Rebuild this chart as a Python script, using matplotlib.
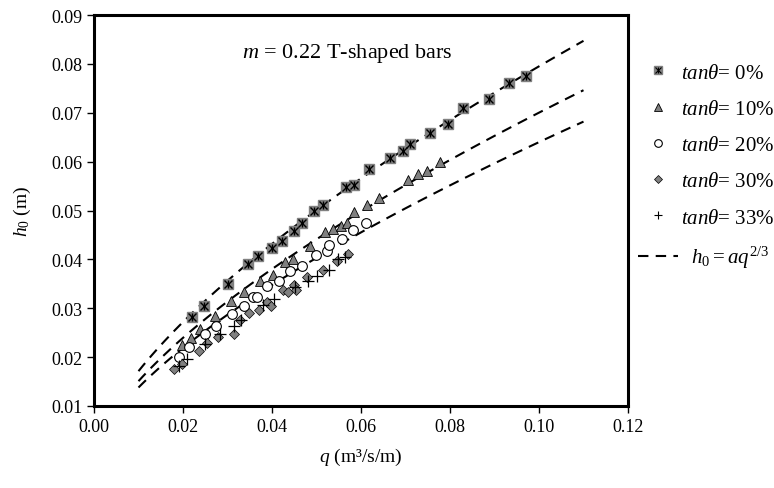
import matplotlib
matplotlib.use("Agg")
import matplotlib.pyplot as plt
from matplotlib.lines import Line2D
from matplotlib.legend_handler import HandlerTuple
import numpy as np

plt.rcParams['font.family'] = ['Liberation Serif', 'DejaVu Serif']
plt.rcParams['mathtext.fontset'] = 'custom'
plt.rcParams['mathtext.rm'] = 'Liberation Serif'
plt.rcParams['mathtext.it'] = 'Liberation Serif:italic'
plt.rcParams['mathtext.bf'] = 'Liberation Serif:bold'

# tan(theta) = 0 %
q0 = [0.0220, 0.0247, 0.0300, 0.0346, 0.0368, 0.0399, 0.0423, 0.0449, 0.0467, 0.0494, 0.0515, 0.0566,
      0.0584, 0.0619, 0.0665, 0.0694, 0.0709, 0.0754, 0.0796, 0.0830, 0.0888, 0.0933, 0.0971]
h0 = [0.0283, 0.0305, 0.0350, 0.0391, 0.0406, 0.0423, 0.0438, 0.0458, 0.0474, 0.0499, 0.0511, 0.0549,
      0.0553, 0.0585, 0.0607, 0.0622, 0.0636, 0.0658, 0.0678, 0.0710, 0.0729, 0.0761, 0.0776]
# tan(theta) = 10 %
q10 = [0.0197, 0.0217, 0.0238, 0.0272, 0.0307, 0.0337, 0.0373, 0.0403, 0.0429, 0.0448, 0.0485, 0.0519,
       0.0536, 0.0554, 0.0568, 0.0584, 0.0613, 0.0641, 0.0706, 0.0727, 0.0748, 0.0778]
h10 = [0.0224, 0.0240, 0.0258, 0.0284, 0.0315, 0.0334, 0.0356, 0.0368, 0.0395, 0.0401, 0.0428, 0.0456,
       0.0462, 0.0469, 0.0475, 0.0496, 0.0511, 0.0525, 0.0563, 0.0575, 0.0580, 0.0599]
# tan(theta) = 20 %
q20 = [0.0190, 0.0214, 0.0249, 0.0274, 0.0309, 0.0337, 0.0357, 0.0366, 0.0388, 0.0416, 0.0440, 0.0467,
       0.0498, 0.0524, 0.0528, 0.0558, 0.0583, 0.0611]
h20 = [0.0201, 0.0220, 0.0247, 0.0263, 0.0288, 0.0305, 0.0322, 0.0322, 0.0345, 0.0356, 0.0377, 0.0387,
       0.0409, 0.0418, 0.0429, 0.0441, 0.0461, 0.0474]
# tan(theta) = 30 %
q30 = [0.0179, 0.0197, 0.0235, 0.0255, 0.0279, 0.0314, 0.0328, 0.0349, 0.0371, 0.0388, 0.0397, 0.0424,
       0.0435, 0.0449, 0.0455, 0.0479, 0.0515, 0.0545, 0.0571]
h30 = [0.0175, 0.0185, 0.0212, 0.0229, 0.0241, 0.0247, 0.0276, 0.0290, 0.0296, 0.0313, 0.0304, 0.0338,
       0.0333, 0.0348, 0.0338, 0.0363, 0.0379, 0.0397, 0.0411]
# tan(theta) = 33 %
q33 = [0.0190, 0.0208, 0.0249, 0.0283, 0.0314, 0.0330, 0.0380, 0.0404, 0.0452, 0.0482, 0.0500, 0.0527,
       0.0549, 0.0564]
h33 = [0.0181, 0.0196, 0.0227, 0.0247, 0.0263, 0.0275, 0.0307, 0.0318, 0.0343, 0.0356, 0.0365, 0.0379,
       0.0400, 0.0404]

# fitted h0 = a q^(2/3)
a_fit = [0.369, 0.325, 0.297]
q_fit = np.linspace(0.01, 0.11, 100)

fig = plt.figure(figsize=(7.74, 4.89), dpi=100)
ax = fig.add_axes([94/774, 1-407/489, 534/774, 391/489])

gray = '#808080'
for a in a_fit:
    ax.plot(q_fit, a*q_fit**(2.0/3.0), color='black', lw=1.5, dashes=(5, 3.5), zorder=1)

# square with asterisk on top
ax.plot(q0, h0, 's', ms=7, mfc=gray, mec=gray, ls='none', zorder=3)
ax.plot(q0, h0, 'x', ms=6, mec='black', mew=1.0, ls='none', zorder=4)
ax.plot(q0, h0, '|', ms=6, mec='black', mew=1.0, ls='none', zorder=4)
ax.plot(q10, h10, '^', ms=7.5, mfc=gray, mec='black', mew=0.6, ls='none', zorder=3)
ax.plot(q20, h20, 'o', ms=7, mfc='white', mec='black', mew=0.8, ls='none', zorder=3)
ax.plot(q30, h30, 'D', ms=5.5, mfc=gray, mec='black', mew=0.5, ls='none', zorder=3)
ax.plot(q33, h33, '+', ms=8, mec='black', mew=0.9, ls='none', zorder=3)

ax.set_xlim(0, 0.12)
ax.set_ylim(0.01, 0.09)
ax.set_xticks(np.arange(0, 0.121, 0.02))
ax.set_yticks(np.arange(0.01, 0.091, 0.01))
ax.xaxis.set_major_formatter(plt.FormatStrFormatter('%.2f'))
ax.yaxis.set_major_formatter(plt.FormatStrFormatter('%.2f'))
ax.tick_params(direction='out', length=5, width=1, labelsize=13, colors='black')
for s in ax.spines.values():
    s.set_linewidth(2.2)

ax.set_xlabel(r'$q$ (m³/s/m)', fontsize=14, labelpad=8)
ax.set_ylabel(r'$h_{\mathit{0}}$ (m)', fontsize=14, labelpad=13)
ax.text(0.0569, 0.0824, r'$m$ = 0.22 T-shaped bars', fontsize=16, ha='center', va='center')

# legend with smaller markers
lh0 = (Line2D([], [], marker='s', ms=5.5, mfc=gray, mec=gray, ls='none'),
       Line2D([], [], marker='x', ms=4.5, mec='black', mew=0.8, ls='none'),
       Line2D([], [], marker='|', ms=4.5, mec='black', mew=0.8, ls='none'))
lh10 = Line2D([], [], marker='^', ms=6, mfc=gray, mec='black', mew=0.6, ls='none')
lh20 = Line2D([], [], marker='o', ms=5.5, mfc='white', mec='black', mew=0.8, ls='none')
lh30 = Line2D([], [], marker='D', ms=4.5, mfc=gray, mec='black', mew=0.5, ls='none')
lh33 = Line2D([], [], marker='+', ms=6, mec='black', mew=0.8, ls='none')
lfit = Line2D([], [], color='black', lw=1.5, dashes=(5, 3.5))
labels = [r'$tan\theta$= 0%', r'$tan\theta$= 10%', r'$tan\theta$= 20%', r'$tan\theta$= 30%',
          r'$tan\theta$= 33%', r'  $h_{\mathit{0}}=aq^{2/3}$']
fig.legend([lh0, lh10, lh20, lh30, lh33, lfit], labels,
           handler_map={tuple: HandlerTuple(ndivide=1, pad=0)},
           loc='upper left', bbox_to_anchor=(638/774, 1-64/489),
           frameon=False, fontsize=15, handlelength=1.9, handletextpad=0.15,
           labelspacing=0.8, numpoints=1, borderpad=0, borderaxespad=0)

fig.savefig('out.png', dpi=100)
